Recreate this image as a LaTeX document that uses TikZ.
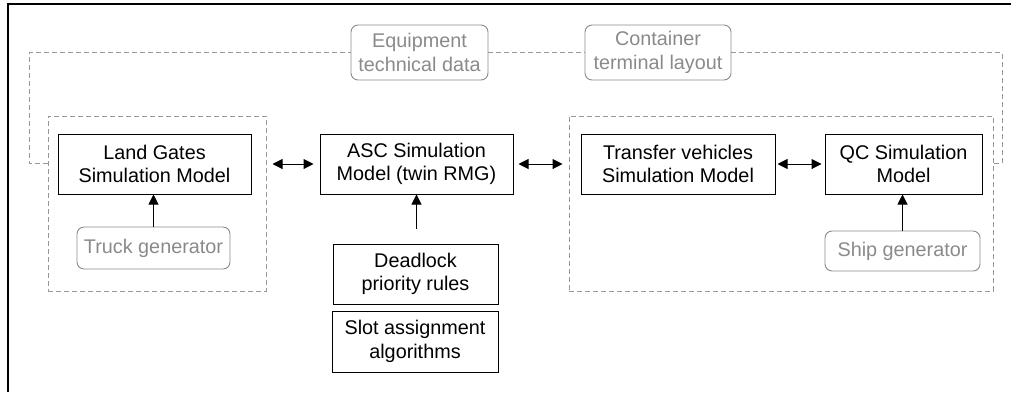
\documentclass[tikz,border=0pt]{standalone}
\usepackage{fontspec}
\setmainfont{Liberation Sans}
\usetikzlibrary{arrows.meta}
\definecolor{softgray}{HTML}{8A8A8A}
\definecolor{dashgray}{HTML}{969696}
\begin{document}
\begin{tikzpicture}[x=1pt,y=-1pt,
  font=\fontsize{19.8}{23.7}\selectfont,
  model/.style={draw=black,line width=1pt,align=center,inner sep=0pt},
  source/.style={draw=softgray,line width=0.9pt,rounded corners=7pt,align=center,inner sep=0pt,text=softgray},
  group/.style={draw=dashgray,line width=1pt,dash pattern=on 5pt off 3pt},
  link/.style={line width=1pt,{Triangle[length=10pt,width=10pt]}-{Triangle[length=10pt,width=10pt]}},
  feed/.style={line width=1pt,-{Triangle[length=10pt,width=10pt]}}]
\useasboundingbox (0,0) rectangle (1011,392);
% outer frame (top and left edges)
\draw[line width=1.2pt] (1011,4) -- (8,4) -- (8,392);

% dashed grouping boxes
\node[group,minimum width=218pt,minimum height=175pt,inner sep=0pt] (landgrp) at (157,203.5) {};
\node[group,minimum width=424pt,minimum height=175pt,inner sep=0pt] (seagrp) at (781,203.5) {};

% shared data sources
\node[source,minimum width=137pt,minimum height=55pt] (equip) at (419.5,52.5) {Equipment\\technical data};
\node[source,minimum width=146pt,minimum height=55pt] (layout) at (658,52.5) {Container\\terminal layout};

% simulation models
\node[model,minimum width=193pt,minimum height=60pt] (land) at (154.5,164) {Land Gates\\Simulation Model};
\node[model,minimum width=193pt,minimum height=60pt] (asc) at (416.5,164) {ASC Simulation\\Model (twin RMG)};
\node[model,minimum width=194pt,minimum height=60pt] (transfer) at (678,164) {Transfer vehicles\\Simulation Model};
\node[model,minimum width=157pt,minimum height=60pt] (qc) at (903.5,164) {QC Simulation\\Model};

% generators
\node[source,minimum width=153pt,minimum height=42pt] (truck) at (153.5,248) {Truck generator};
\node[source,minimum width=155pt,minimum height=40pt] (ship) at (902.5,251) {Ship generator};

% ASC rule modules
\node[model,minimum width=165pt,minimum height=60pt] (deadlock) at (415.5,274) {Deadlock\\priority rules};
\node[model,minimum width=166pt,minimum height=61pt] (slot) at (415,341.5) {Slot assignment\\algorithms};

% data distribution loop
\coordinate (loopL) at (29,163);
\coordinate (loopR) at (1002,163);
\draw[group] (landgrp.west |- loopL) -- (loopL) -- (loopL |- equip.west) -- (equip.west);
\draw[group] (equip.east) -- (layout.west);
\draw[group] (layout.east) -- (loopR |- layout.east) -- (loopR) -- (seagrp.east |- loopR);

% interactions
\draw[link,shorten <=6pt,shorten >=6pt] (landgrp.east |- land.east) -- (asc.west);
\draw[link,shorten <=5pt,shorten >=6pt] (asc.east) -- (seagrp.west |- asc.east);
\draw[link,shorten <=2pt,shorten >=3pt] (transfer.east) -- (qc.west);
\draw[feed] (truck.north) -- (land.south -| truck.north);
\draw[feed] ([yshift=15pt]deadlock.north -| asc.south) -- (asc.south);
\draw[feed] (ship.north) -- (qc.south -| ship.north);
\end{tikzpicture}
\end{document}
